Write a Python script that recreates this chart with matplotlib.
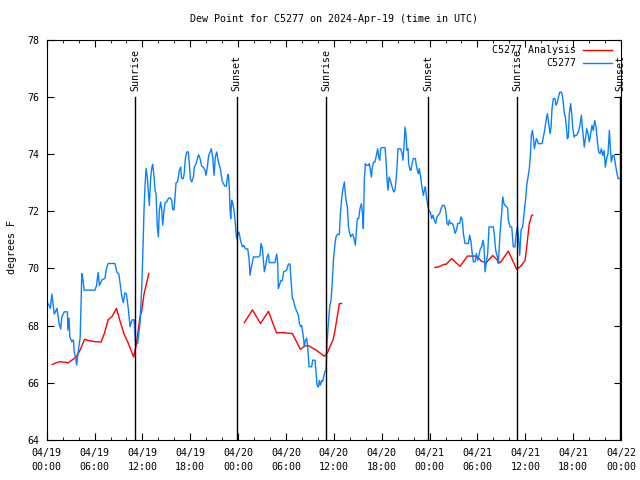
import numpy as np
import matplotlib
matplotlib.use('Agg')
import matplotlib.pyplot as plt

# hours since 2024-04-19 00:00 UTC
blue_hours = [
    0.0, 0.3, 0.45, 0.65, 0.95, 1.3, 1.55, 1.75, 1.9, 2.2, 2.6, 2.65, 2.8, 2.9, 3.15, 3.35, 3.45, 3.65, 3.75, 3.95,
    4.2, 4.4, 4.5, 4.7, 6.05, 6.25, 6.45, 6.6, 6.9, 7.3, 7.5, 7.7, 8.55, 8.8, 9.05, 9.4, 9.6, 9.8, 10.0, 10.25,
    10.45, 10.7, 10.95, 11.15, 11.4, 11.7, 11.9, 12.03, 12.12, 12.2, 12.3, 12.45,
    12.62, 12.74, 12.87, 13.04, 13.16, 13.29, 13.46, 13.58, 13.71, 13.87, 14.0, 14.12, 14.29, 14.42, 14.54, 14.71,
    14.83, 15.04, 15.25, 15.46, 15.67, 15.8, 15.96, 16.09, 16.21, 16.38, 16.51, 16.63, 16.8, 16.92, 17.13, 17.26,
    17.38, 17.55, 17.76, 17.88, 18.01, 18.18, 18.39, 18.51, 18.72, 18.89, 19.05, 19.22, 19.43, 19.64, 19.85, 19.97,
    20.14, 20.31, 20.48, 20.64, 20.81, 20.98, 21.14, 21.31, 21.48, 21.65, 21.81, 21.98, 22.15, 22.36, 22.52, 22.65,
    22.77, 22.9, 22.98, 23.07, 23.19, 23.32, 23.48, 23.61, 23.74,
    23.82, 23.94, 24.11, 24.28, 24.53, 24.7, 24.95, 25.2, 25.37, 25.49, 25.62, 25.78, 25.91, 26.54, 26.74, 26.87,
    27.04, 27.16, 27.29, 27.45, 27.62, 27.79, 27.91, 28.62, 28.83, 28.96, 29.04, 29.17, 29.34, 29.54, 29.71, 29.88,
    30.09, 30.3, 30.51, 30.63, 30.8, 30.92, 31.13, 31.34, 31.55, 31.68, 31.84, 31.97, 32.18, 32.3, 32.39, 32.59,
    32.72, 32.89, 33.22, 33.35, 33.64, 33.76, 33.89, 34.06, 34.18, 34.31, 34.48, 34.6, 34.73, 34.89, 35.02, 35.14,
    35.31, 35.48, 35.65, 35.81, 35.94, 36.06,
    36.15, 36.27, 36.44, 36.69, 36.82, 36.98, 37.11, 37.23, 37.32, 37.4, 37.53, 37.69, 37.82, 37.94, 38.11, 38.24,
    38.36, 38.53, 38.7, 38.78, 38.95, 39.11, 39.28, 39.45, 39.57, 39.7, 39.82, 39.95, 40.12, 40.33, 40.45, 40.58,
    40.7, 40.83, 40.99, 41.16, 41.37, 41.5, 41.62, 41.75, 41.87, 42.0, 42.42, 42.54, 42.67, 42.79, 42.92, 43.08,
    43.25, 43.42, 43.54, 43.67, 43.79, 43.92, 44.04, 44.38, 44.55, 44.67, 44.8, 44.92, 45.05, 45.17, 45.3, 45.38,
    45.55, 45.67, 45.8, 45.97, 46.22, 46.34, 46.47, 46.59, 46.72, 46.8, 46.89, 47.01, 47.22, 47.35, 47.47, 47.64,
    47.81, 47.97,
    48.1, 48.27, 48.43, 48.6, 48.77, 48.93, 49.1, 49.27, 49.44, 49.6, 49.85, 50.02, 50.19, 50.36, 50.48, 50.61,
    50.86, 51.02, 51.19, 51.36, 51.53, 51.78, 51.94, 52.11, 52.24, 52.44, 52.86, 53.03, 53.2, 53.32, 53.49, 53.7,
    53.87, 54.03, 54.2, 54.37, 54.53, 54.7, 54.83, 54.95, 55.12, 55.29, 55.45, 56.0, 56.12, 56.29, 56.5, 56.62,
    56.83, 57.04, 57.17, 57.33, 57.46, 57.67, 57.79, 57.88, 58.09, 58.3, 58.38, 58.5, 58.71, 58.84, 59.0, 59.13,
    59.3, 59.46,
    59.67, 59.8, 59.93, 60.05, 60.18, 60.34, 60.51, 60.64, 60.76, 60.89, 61.01, 61.14, 61.26, 61.39, 61.51, 61.64,
    62.1, 62.27, 62.43, 62.6, 62.77, 62.93, 63.1, 63.23, 63.35, 63.52, 63.73, 63.85, 64.02, 64.19, 64.31, 64.52,
    64.65, 64.77, 64.9, 65.02, 65.15, 65.27, 65.4, 65.52, 65.69, 65.82, 65.94, 66.11, 66.28, 66.44, 66.65, 66.86,
    67.03, 67.15, 67.28, 67.4, 67.57, 67.7, 67.87, 68.03, 68.2, 68.37, 68.53, 68.7, 68.87, 69.03, 69.2, 69.37,
    69.54, 69.7, 69.87, 70.04, 70.2, 70.37, 70.54, 70.66, 70.79, 70.96, 71.12, 71.29, 71.46, 71.63, 71.95,
]
blue_dewpt = [
    68.85, 68.7, 68.6, 69.1, 68.4, 68.6, 68.07, 67.88, 68.3, 68.48, 68.48, 67.84, 68.26, 67.6, 67.43, 67.5, 67.08, 66.85, 66.62, 67.08,
    67.6, 69.82, 69.7, 69.24, 69.24, 69.4, 69.86, 69.4, 69.59, 69.65, 70.0, 70.17, 70.17, 69.86, 69.8, 69.06, 68.8, 69.15, 69.1, 68.54,
    67.96, 68.2, 68.2, 67.37, 67.37, 68.1, 69.24, 70.3, 71.2, 72.03, 72.73, 73.49,
    73.19, 72.67, 72.2, 73.19, 73.49, 73.64, 73.19, 72.73, 72.61, 71.45, 71.1, 72.03, 72.32, 72.03, 71.51, 72.03,
    72.29, 72.32, 72.44, 72.47, 72.38, 72.05, 72.05, 72.5, 72.99, 73.02, 73.19, 73.43, 73.54, 73.14, 73.14, 73.37,
    73.84, 74.07, 74.07, 73.66, 73.14, 73.02, 73.19, 73.54, 73.66, 73.84, 73.97, 73.84, 73.57, 73.54, 73.43, 73.25,
    73.54, 73.95, 74.07, 74.18, 73.89, 73.25, 73.89, 74.07, 73.78, 73.6, 73.43, 73.08, 72.96, 72.87, 72.87, 73.19,
    73.29, 72.79, 72.09, 71.74, 72.38, 72.29, 72.03, 71.68, 71.22,
    71.04, 71.17, 71.27, 71.0, 70.75, 70.8, 70.68, 70.68, 70.34, 69.76, 70.0, 70.2, 70.4, 70.4, 70.45, 70.87,
    70.7, 70.3, 69.88, 70.1, 70.4, 70.5, 70.2, 70.2, 70.5, 70.2, 69.3, 69.4, 69.57, 69.57, 69.88, 69.9,
    69.95, 70.15, 70.15, 69.57, 68.95, 68.9, 68.65, 68.5, 68.37, 68.07, 67.96, 68.0, 67.6, 67.26, 67.45, 67.56,
    67.26, 66.56, 66.56, 66.79, 66.79, 66.38, 65.92, 65.85, 66.08, 65.92, 66.08, 66.05, 66.2, 66.4, 66.4, 67.37,
    68.07, 68.65, 68.9, 69.57, 70.27, 70.6,
    70.87, 71.1, 71.19, 71.19, 71.92, 72.44, 72.73, 72.9, 73.02, 72.73, 72.38, 72.15, 71.51, 71.27, 71.1, 71.16,
    71.2, 71.04, 70.81, 71.16, 71.74, 71.74, 72.09, 72.26, 71.97, 71.39, 73.08, 73.66, 73.6, 73.6, 73.66, 73.43,
    73.19, 73.54, 73.72, 73.72, 74.01, 74.18, 73.89, 73.78, 74.18, 74.22, 74.22, 73.78, 73.08, 72.73, 73.19, 73.08,
    72.9, 72.73, 72.67, 72.73, 73.08, 73.54, 74.18, 74.18, 74.01, 73.78, 74.3, 74.94, 74.65, 74.13, 74.18, 73.66,
    73.43, 73.43, 73.66, 73.84, 73.84, 73.6, 73.43, 73.31, 73.49, 73.31, 73.19, 72.9, 72.55, 72.73, 72.85, 72.44,
    72.15, 71.97,
    71.97, 71.74, 71.86, 71.68, 71.57, 71.8, 71.86, 71.92, 72.09, 72.2, 72.2, 72.03, 71.57, 71.51, 71.68, 71.57,
    71.57, 71.45, 71.22, 71.33, 71.57, 71.57, 71.8, 71.68, 71.22, 70.87, 70.87, 71.16, 70.92, 70.58, 70.23, 70.23,
    70.52, 70.28, 70.46, 70.69, 70.75, 70.98, 70.75, 69.88, 70.23, 70.52, 71.45, 71.45, 71.16, 70.63, 70.4, 70.17,
    71.22, 71.92, 72.5, 72.26, 72.2, 72.15, 72.09, 71.68, 71.45, 71.45, 71.16, 70.75, 70.75, 71.16, 71.45, 71.16,
    70.46, 71.33,
    71.45, 71.8, 72.15, 72.44, 72.9, 73.19, 73.49, 73.95, 74.65, 74.82, 74.59, 74.18, 74.36, 74.53, 74.47, 74.36,
    74.36, 74.59, 74.82, 75.17, 75.41, 75.06, 74.71, 74.94, 75.58, 75.93, 75.93, 75.7, 75.81, 76.01, 76.16, 76.16,
    76.05, 75.76, 75.41, 75.29, 74.94, 74.53, 74.59, 75.41, 75.76, 75.41, 74.94, 74.59, 74.65, 74.65, 74.77, 75.0,
    75.35, 74.94, 74.59, 74.24, 74.59, 74.88, 74.71, 74.42, 74.71, 75.0, 74.82, 75.17, 74.94, 74.47, 74.07, 74.01,
    74.18, 73.95, 74.12, 73.54, 73.84, 74.01, 74.82, 74.24, 73.72, 73.95, 73.95, 73.66, 73.37, 73.14, 73.14,
]

# analysis runs (three separate pieces)
red_hours = [
    [0.7, 1.2, 1.7, 2.7, 3.2, 3.7, 4.2, 4.75, 5.2, 6.0, 6.8, 7.2, 7.7, 8.2, 8.75, 9.2, 9.7, 10.2, 10.9,
     11.2, 11.7, 11.9, 12.2, 12.8],
    [24.77, 25.8, 26.8, 27.8, 28.8, 29.8, 30.8, 31.8, 32.3, 32.8, 33.8, 34.8, 35.2, 35.5, 35.9, 36.15,
     36.69, 36.98],
    [48.68, 49.1, 49.73, 50.1, 50.77, 51.3, 51.82, 52.74, 53.9, 54.5, 55.08, 55.92, 56.83, 57.88, 58.93,
     59.5, 59.97, 60.18, 60.5, 60.81, 60.93],
]
red_dewpt = [
    [66.64, 66.7, 66.74, 66.7, 66.8, 66.9, 67.15, 67.52, 67.48, 67.44, 67.42, 67.7, 68.2, 68.32, 68.6,
     68.15, 67.7, 67.4, 66.9, 67.3, 68.3, 68.5, 69.1, 69.82],
    [68.1, 68.55, 68.07, 68.5, 67.75, 67.75, 67.72, 67.17, 67.28, 67.3, 67.14, 66.93, 67.05, 67.26, 67.5,
     67.84, 68.77, 68.77],
    [70.03, 70.05, 70.13, 70.15, 70.34, 70.2, 70.07, 70.43, 70.43, 70.25, 70.19, 70.45, 70.19, 70.6, 69.96,
     70.1, 70.28, 70.75, 71.57, 71.86, 71.86],
]

sun_hours = [11.07, 23.82, 35.02, 47.85, 59.0, 71.88]
sun_names = ['Sunrise', 'Sunset', 'Sunrise', 'Sunset', 'Sunrise', 'Sunset']

tick_hours = list(range(0, 73, 6))
tick_labels = ['04/19\n00:00', '04/19\n06:00', '04/19\n12:00', '04/19\n18:00',
               '04/20\n00:00', '04/20\n06:00', '04/20\n12:00', '04/20\n18:00',
               '04/21\n00:00', '04/21\n06:00', '04/21\n12:00', '04/21\n18:00',
               '04/22\n00:00']

plt.rcParams['font.family'] = ['DejaVu Sans Mono']
plt.rcParams['font.size'] = 7.2

fig = plt.figure(figsize=(6.4, 4.8), dpi=100)
ax = fig.add_axes([46.7 / 640, 40 / 480, (621 - 46.7) / 640, (440 - 39.5) / 480])

BLUE = '#0a80ff'
RED = '#ff0000'

for hh, vv in zip(red_hours, red_dewpt):
    ax.plot(hh, vv, color=RED, lw=1.0)
ax.plot(blue_hours, blue_dewpt, color=BLUE, lw=1.0)

for t, name in zip(sun_hours, sun_names):
    ax.plot([t, t], [64, 76], color='black', lw=1.0)
    ax.annotate(name, (t, 76), xytext=(0, 4), textcoords='offset points',
                rotation=90, ha='center', va='bottom')

ax.set_xlim(0, 72)
ax.set_ylim(64, 78)
ax.set_xticks(tick_hours)
ax.set_xticklabels(tick_labels, linespacing=1.5)
ax.set_xticks(np.arange(0, 73, 2), minor=True)
ax.set_yticks(range(64, 79, 2))
ax.tick_params(which='both', direction='in', top=True, right=True)
ax.tick_params(which='major', length=5)
ax.tick_params(which='minor', length=2.5)
ax.tick_params(axis='x', pad=6)
ax.tick_params(axis='y', pad=5)

# legend, gnuplot style (text right aligned, sample on the right)
ax.text(0.9216, 0.974, 'C5277 Analysis', transform=ax.transAxes, ha='right', va='center')
ax.plot([0.934, 0.984], [0.974, 0.974], color=RED, lw=1.0, transform=ax.transAxes)
ax.text(0.9216, 0.941, 'C5277', transform=ax.transAxes, ha='right', va='center')
ax.plot([0.934, 0.984], [0.941, 0.941], color=BLUE, lw=1.0, transform=ax.transAxes)

ax.text(0.5, 1.051, 'Dew Point for C5277 on 2024-Apr-19 (time in UTC)', transform=ax.transAxes,
        ha='center', va='center')
fig.text(11.7 / 640, 1 - 247 / 480, 'degrees F', rotation=90, ha='center', va='center')

fig.savefig('out.png', dpi=100)
